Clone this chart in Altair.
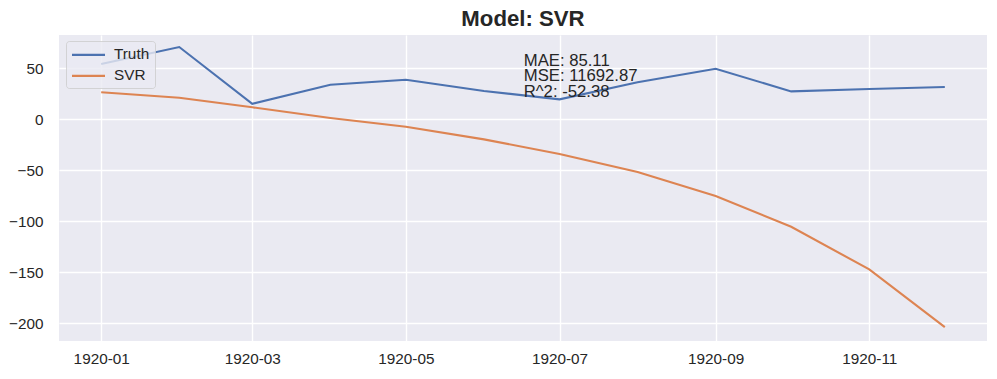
import altair as alt
import pandas as pd

months = ["1920-01-01", "1920-02-01", "1920-03-01", "1920-04-01", "1920-05-01", "1920-06-01",
          "1920-07-01", "1920-08-01", "1920-09-01", "1920-10-01", "1920-11-01", "1920-12-01"]
truth = [54.0, 70.6, 15.0, 33.6, 38.5, 27.5, 19.3, 36.0, 49.3, 27.1, 29.4, 31.4]
svr = [26.2, 20.9, 11.5, 1.0, -7.5, -19.9, -34.3, -52.0, -75.5, -105.6, -147.4, -204.0]
series_names = ["Truth", "SVR"]
series_colors = ["#4C72B0", "#DD8452"]
metric_lines = ["MAE: 85.11", "MSE: 11692.87", "R^2: -52.38"]
metric_y = [52.3, 37.0, 21.8]
metric_x = "1920-06-16T19:00:00"
y_ticks = [-200, -150, -100, -50, 0, 50]
x_ticks = ["1920-01", "1920-03", "1920-05", "1920-07", "1920-09", "1920-11"]

rows = []
for m, t, s in zip(months, truth, svr):
    rows.append({"date": m + "T00:00:00", "value": t, "series": "Truth"})
    rows.append({"date": m + "T00:00:00", "value": s, "series": "SVR"})
df = pd.DataFrame(rows)
ann = pd.DataFrame({"date": [metric_x] * 3, "value": metric_y, "label": metric_lines})

FONT = "Liberation Sans"
TXT = "#262626"

x_values = [alt.DateTime(year=int(t[:4]), month=int(t[5:]), date=1) for t in x_ticks]
xscale = alt.Scale(domain=[alt.DateTime(year=1919, month=12, date=15, hours=6),
                           alt.DateTime(year=1920, month=12, date=17, hours=18)])
yscale = alt.Scale(domain=[-217.6, 82.4], nice=False, zero=False)

lines = alt.Chart(df).mark_line(strokeWidth=2.1, clip=True).encode(
    x=alt.X("date:T", scale=xscale, title=None,
            axis=alt.Axis(values=x_values, format="%Y-%m", labelPadding=10)),
    y=alt.Y("value:Q", scale=yscale, title=None,
            axis=alt.Axis(values=y_ticks, labelPadding=16)),
    color=alt.Color("series:N", scale=alt.Scale(domain=series_names, range=series_colors),
                    legend=alt.Legend(title=None, orient="none", legendX=7, legendY=6,
                                      symbolType="M-1.5,-0.33H1.5", symbolSize=484,
                                      symbolStrokeWidth=2.1, symbolOffset=5,
                                      labelFontSize=15.3, labelFont=FONT, labelColor=TXT,
                                      labelBaseline="alphabetic",
                                      fillColor="rgba(234,234,242,0.8)",
                                      strokeColor="rgba(204,204,204,0.8)",
                                      padding=5, cornerRadius=3, rowPadding=5,
                                      labelOffset=13)),
)

text = alt.Chart(ann).mark_text(align="left", baseline="alphabetic", fontSize=16.7,
                                font=FONT, color=TXT).encode(
    x="date:T", y="value:Q", text="label:N")

chart = alt.layer(lines, text).properties(
    width=928, height=306,
    title=alt.TitleParams("Model: SVR", fontSize=22.2, font=FONT, fontWeight="bold",
                          color=TXT, anchor="middle", offset=5),
    autosize=alt.AutoSizeParams(type="none"),
    padding={"left": 51, "top": 27, "right": 2, "bottom": 30},
).configure(background="white").configure_view(
    fill="#EAEAF2", stroke=None
).configure_axis(
    grid=True, gridColor="white", gridWidth=1.4, domain=False, ticks=False,
    labelFont=FONT, labelFontSize=15.3, labelColor=TXT,
)

chart.save("out.html", embed_options={"renderer": "svg", "actions": False})
